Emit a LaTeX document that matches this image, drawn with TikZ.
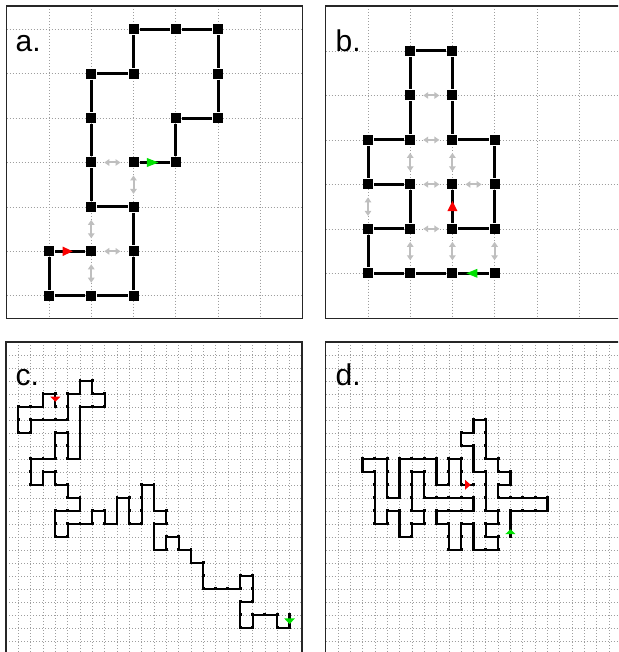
\documentclass[tikz,border=0pt]{standalone}
\usepackage{fontspec}
\setmainfont{Liberation Sans}
\usetikzlibrary{calc,arrows.meta}
\definecolor{arrred}{RGB}{250,0,0}
\definecolor{arrgreen}{RGB}{0,225,0}
\tikzset{
 frame/.style={draw=black!85, line width=1.5pt},
 gridln/.style={draw=black!38, line width=0.6pt, dash pattern=on 0.9pt off 2.1pt},
 bignode/.style={rectangle, fill=black, minimum size=10pt, inner sep=0pt, outer sep=0pt},
 bigedge/.style={line width=3pt, black, shorten <=1pt, shorten >=1pt},
 grayarr/.style={draw=black!25, line width=2pt, shorten <=8pt, shorten >=8pt,
   {Triangle[length=5pt,width=6.5pt]}-{Triangle[length=5pt,width=6.5pt]}},
 smallnode/.style={rectangle, fill=black, minimum size=2.9pt, inner sep=0pt, outer sep=0pt},
 walk/.style={line width=2.2pt, black, line cap=square},
 lbl/.style={anchor=base west, inner sep=0pt, font=\fontsize{30}{36}\selectfont},
}
% filled triangle on the connector from #2 to #3, pointing to #3
\newcommand\mytri[6]{%
  \path ($(#2)!0.5!(#3)$) coordinate (tm);
  \path ($(tm)!#5!(#2)$) coordinate (tb);
  \fill[#1] ($(tm)!#4!(#3)$) -- ($(tb)!#6!90:(#3)$) -- ($(tb)!#6!-90:(#3)$) -- cycle;
}
\begin{document}
\begin{tikzpicture}[x=1pt,y=-1pt]
\useasboundingbox (0,0) rectangle (618,652);
\clip (0,0) rectangle (618,652);

% ---------------- panel a ----------------
\foreach \i in {0,...,5} \draw[gridln] ({49+42.25*\i},6.5) -- ({49+42.25*\i},318);
\foreach \j in {0,...,6} \draw[gridln] (6.7,{29.3+44.4*\j}) -- (302.5,{29.3+44.4*\j});
\foreach \i/\j in {2/0,3/0,4/0,1/1,2/1,4/1,1/2,3/2,4/2,1/3,2/3,3/3,1/4,2/4,0/5,1/5,2/5,0/6,1/6,2/6}
  \node[bignode] (a-\i-\j) at ({49+42.25*\i},{29.3+44.4*\j}) {};
\foreach \p/\q in {2-0/3-0,3-0/4-0,4-0/4-1,4-1/4-2,3-2/4-2,3-2/3-3,2-3/3-3,2-0/2-1,1-1/2-1,
  1-1/1-2,1-2/1-3,1-3/1-4,1-4/2-4,2-4/2-5,2-5/2-6,1-6/2-6,0-6/1-6,0-5/0-6,0-5/1-5}
  \draw[bigedge] (a-\p) -- (a-\q);
\foreach \p/\q in {1-3/2-3,2-3/2-4,1-4/1-5,1-5/2-5,1-5/1-6}
  \draw[grayarr] (a-\p) -- (a-\q);
\mytri{arrred}{a-0-5}{a-1-5}{2.6pt}{7.4pt}{4.7pt}
\mytri{arrgreen}{a-2-3}{a-3-3}{3.8pt}{7.8pt}{4.6pt}
\node[lbl] (la) at (15.5,51.7) {a.};
\draw[frame] (6.7,6) rectangle (302.5,318.3);

% ---------------- panel b ----------------
\foreach \i in {0,...,5} \draw[gridln] ({368+42.2*\i},6.5) -- ({368+42.2*\i},318);
\foreach \j in {0,...,5} \draw[gridln] (325.5,{51+44.46*\j}) -- (618,{51+44.46*\j});
\foreach \i/\j in {1/0,2/0,1/1,2/1,0/2,1/2,2/2,3/2,0/3,1/3,2/3,3/3,0/4,1/4,2/4,3/4,0/5,1/5,2/5,3/5}
  \node[bignode] (b-\i-\j) at ({368+42.2*\i},{51+44.46*\j}) {};
\foreach \p/\q in {1-0/2-0,1-0/1-1,2-0/2-1,1-1/1-2,2-1/2-2,0-2/1-2,2-2/3-2,0-2/0-3,3-2/3-3,
  0-3/1-3,1-3/1-4,2-3/2-4,3-3/3-4,0-4/1-4,2-4/3-4,0-4/0-5,0-5/1-5,1-5/2-5,2-5/3-5}
  \draw[bigedge] (b-\p) -- (b-\q);
\foreach \p/\q in {1-1/2-1,1-2/2-2,1-2/1-3,2-2/2-3,1-3/2-3,2-3/3-3,0-3/0-4,1-4/2-4,1-4/1-5,2-4/2-5,3-4/3-5}
  \draw[grayarr] (b-\p) -- (b-\q);
\mytri{arrred}{b-2-4}{b-2-3}{5.6pt}{4.4pt}{5pt}
\mytri{arrgreen}{b-3-5}{b-2-5}{7.2pt}{3.8pt}{4.5pt}
\node[lbl] (lb) at (335.5,51.7) {b.};
\draw[frame] (325.5,6) rectangle (640,318.3);

% ---------------- panel c ----------------
\foreach \i in {1,...,23} \draw[gridln] ({6+12.33*\i},342) -- ({6+12.33*\i},652);
\foreach \j in {1,...,23} \draw[gridln] (6,{341.8+13*\j}) -- (302,{341.8+13*\j});
\foreach \u/\v [count=\k, remember=\k as \kp (initially 0)] in {4/5,4/4,3/4,3/5,2/5,1/5,1/6,1/7,2/7,2/6,
  3/6,4/6,5/6,5/5,5/4,6/4,6/3,7/3,7/4,8/4,8/5,7/5,6/5,6/6,6/7,6/8,6/9,5/9,5/8,5/7,
  4/7,4/8,4/9,3/9,2/9,2/10,2/11,3/11,3/10,4/10,4/11,5/11,5/12,6/12,6/13,5/13,4/13,4/14,4/15,5/15,
  5/14,6/14,7/14,7/13,8/13,8/14,9/14,9/13,9/12,10/12,10/13,10/14,11/14,11/13,11/12,11/11,12/11,12/12,12/13,13/13,
  13/14,12/14,12/15,12/16,13/16,13/15,14/15,14/16,15/16,15/17,16/17,16/18,16/19,17/19,18/19,19/19,19/18,20/18,20/19,20/20,
  19/20,19/21,19/22,20/22,20/21,21/21,22/21,22/22,23/22,23/21}{
  \node[smallnode] (c\k) at ({6+12.33*\u},{341.8+13*\v}) {};
  \ifnum\k>1 \draw[walk] (c\kp.center) -- (c\k.center); \fi
}
\mytri{arrred}{c2}{c1}{1.4pt}{3.6pt}{5pt}
\mytri{arrgreen}{c100}{c99}{2.7pt}{3pt}{5.5pt}
\node[lbl] (lc) at (15.5,385) {c.};
\draw[frame] (6,341.8) rectangle (302,670);

% ---------------- panel d ----------------
\foreach \i in {1,...,23} \draw[gridln] ({325.5+12.33*\i},342) -- ({325.5+12.33*\i},652);
\foreach \j in {1,...,23} \draw[gridln] (325.5,{341.8+13*\j}) -- (618,{341.8+13*\j});
\foreach \u/\v [count=\k, remember=\k as \kp (initially 0)] in {12/11,11/11,11/10,11/9,10/9,10/10,10/11,9/11,9/10,9/9,
  8/9,7/9,6/9,6/10,6/11,6/12,5/12,5/11,5/10,5/9,4/9,3/9,3/10,4/10,4/11,4/12,4/13,4/14,5/14,5/13,
  6/13,6/14,6/15,7/15,7/14,8/14,8/13,7/13,7/12,7/11,7/10,8/10,8/11,8/12,9/12,10/12,11/12,12/12,12/13,11/13,
  10/13,9/13,9/14,10/14,10/15,10/16,11/16,11/15,11/14,12/14,12/15,12/16,13/16,14/16,14/15,13/15,13/14,14/14,14/13,13/13,
  13/12,13/11,13/10,12/10,12/9,12/8,11/8,11/7,12/7,12/6,13/6,13/7,13/8,13/9,14/9,14/10,15/10,15/11,14/11,14/12,
  15/12,16/12,17/12,18/12,18/13,17/13,16/13,15/13,15/14,15/15}{
  \node[smallnode] (d\k) at ({325.5+12.33*\u},{341.8+13*\v}) {};
  \ifnum\k>1 \draw[walk] (d\kp.center) -- (d\k.center); \fi
}
\mytri{arrred}{d2}{d1}{3.4pt}{2.3pt}{5pt}
\mytri{arrgreen}{d100}{d99}{1pt}{3.7pt}{5pt}
\node[lbl] (ld) at (335.5,385) {d.};
\draw[frame] (325.5,341.8) rectangle (640,670);
\end{tikzpicture}
\end{document}
